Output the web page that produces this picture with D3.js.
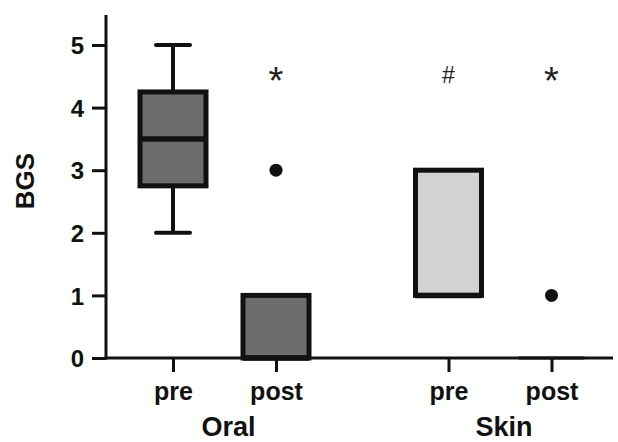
<!DOCTYPE html>
<html>
<head>
<meta charset="utf-8">
<script src="https://cdn.jsdelivr.net/npm/d3@7"></script>
<style>
  body { margin: 0; background: #fff; }
  text { font-family: "Liberation Sans", Arial, sans-serif; font-weight: bold; }
</style>
</head>
<body>
<div id="canvas"></div>
<script>
// Data
const groups = ["Oral", "Skin"];
const phases = ["pre", "post"];
const q1 = [2.75, 0, 1, 0];
const medians = [3.5, 0, 1, 0];
const q3 = [4.25, 1, 3, 0];
const whiskerLow = [2, 0, 1, 0];
const whiskerHigh = [5, 1, 3, 0];
const outliers = [null, 3, null, 1];
const marks = ["", "*", "#", "*"];
const fills = ["#6d6d6d", "#6d6d6d", "#d2d2d2", "#d2d2d2"];
const yTicks = [0, 1, 2, 3, 4, 5];

// Constants
const w = 618;
const h = 442;
const x0 = 106;

const y = d3.scaleLinear().domain([0, 5]).range([358, 45]);
const groupScale = d3.scalePoint().domain(groups).range([224.5, 500]);
const phaseScale = d3.scalePoint().domain(phases).range([-51.5, 51.5]);

const boxes = [];
groups.forEach(g => phases.forEach(p => boxes.push({ group: g, phase: p })));
boxes.forEach((b, i) => {
  b.key = b.group + " " + b.phase;
  b.x = groupScale(b.group) + phaseScale(b.phase);
  b.q1 = q1[i]; b.med = medians[i]; b.q3 = q3[i];
  b.lo = whiskerLow[i]; b.hi = whiskerHigh[i];
  b.out = outliers[i]; b.mark = marks[i]; b.fill = fills[i];
});
const xScale = d3.scaleOrdinal().domain(boxes.map(b => b.key)).range(boxes.map(b => b.x));

const svg = d3.select("#canvas").append("svg")
  .attr("width", w)
  .attr("height", h)
  .style("background-color", "white");

// y axis
const yAxisGroup = svg.append("g")
  .attr("transform", `translate(${x0},0)`)
  .call(d3.axisLeft(y).tickValues(yTicks).tickFormat(d3.format("d")).tickSize(14).tickPadding(8).tickSizeOuter(0));
yAxisGroup.select(".domain").remove();
yAxisGroup.selectAll(".tick line").attr("stroke", "#111").attr("stroke-width", 3);
yAxisGroup.selectAll(".tick text")
  .attr("fill", "#111")
  .style("font-size", "24px")
  .attr("dy", "0.36em");

svg.append("line")
  .attr("x1", x0).attr("x2", x0)
  .attr("y1", 15).attr("y2", y(0) + 1.5)
  .attr("stroke", "#111").attr("stroke-width", 3);

svg.append("text")
  .attr("transform", `translate(34,181) rotate(-90)`)
  .style("text-anchor", "middle")
  .style("font-size", "26px")
  .attr("fill", "#111")
  .text("BGS");

// x axis
const xAxisGroup = svg.append("g")
  .attr("transform", `translate(0,${y(0)})`)
  .call(d3.axisBottom(xScale).tickSize(14).tickPadding(10).tickFormat(k => k.split(" ")[1]));
xAxisGroup.select(".domain").remove();
xAxisGroup.selectAll(".tick line").attr("stroke", "#111").attr("stroke-width", 3);
xAxisGroup.selectAll(".tick text")
  .attr("fill", "#111")
  .style("font-size", "25px");

svg.append("line")
  .attr("x1", x0 - 1.5).attr("x2", 613)
  .attr("y1", y(0)).attr("y2", y(0))
  .attr("stroke", "#111").attr("stroke-width", 3);

svg.selectAll(".group-label")
  .data(groups)
  .join("text")
  .attr("class", "group-label")
  .attr("x", d => groupScale(d) + 4)
  .attr("y", 436)
  .style("text-anchor", "middle")
  .style("font-size", "27px")
  .attr("fill", "#111")
  .text(d => d);

// boxes
const boxW = 66;
const capW = 34;
const g = svg.append("g");

boxes.forEach(b => {
  // whiskers
  if (b.hi > b.q3) {
    g.append("line").attr("x1", b.x).attr("x2", b.x).attr("y1", y(b.q3)).attr("y2", y(b.hi))
      .attr("stroke", "#111").attr("stroke-width", 4);
    g.append("line").attr("x1", b.x - capW / 2).attr("x2", b.x + capW / 2).attr("y1", y(b.hi)).attr("y2", y(b.hi))
      .attr("stroke", "#111").attr("stroke-width", 4).attr("stroke-linecap", "round");
  }
  if (b.lo < b.q1) {
    g.append("line").attr("x1", b.x).attr("x2", b.x).attr("y1", y(b.q1)).attr("y2", y(b.lo))
      .attr("stroke", "#111").attr("stroke-width", 4);
    g.append("line").attr("x1", b.x - capW / 2).attr("x2", b.x + capW / 2).attr("y1", y(b.lo)).attr("y2", y(b.lo))
      .attr("stroke", "#111").attr("stroke-width", 4).attr("stroke-linecap", "round");
  }
  if (b.q3 > b.q1) {
    g.append("rect")
      .attr("x", b.x - boxW / 2)
      .attr("y", y(b.q3))
      .attr("width", boxW)
      .attr("height", y(b.q1) - y(b.q3))
      .attr("fill", b.fill)
      .attr("stroke", "#111")
      .attr("stroke-width", 5);
  }
  // median
  g.append("line")
    .attr("x1", b.x - boxW / 2).attr("x2", b.x + boxW / 2)
    .attr("y1", y(b.med)).attr("y2", y(b.med))
    .attr("stroke", "#111").attr("stroke-width", b.q3 > b.q1 ? 5.5 : 3);
  // outlier
  if (b.out !== null) {
    g.append("circle").attr("cx", b.x).attr("cy", y(b.out)).attr("r", 6.5).attr("fill", "#111");
  }
  // significance mark
  if (b.mark) {
    const star = b.mark === "*";
    g.append("text")
      .attr("x", b.x)
      .attr("y", star ? 94 : 83)
      .style("text-anchor", "middle")
      .style("font-weight", "normal")
      .style("font-size", star ? "38px" : "23px")
      .attr("fill", "#222")
      .text(b.mark);
  }
});
</script>
</body>
</html>
